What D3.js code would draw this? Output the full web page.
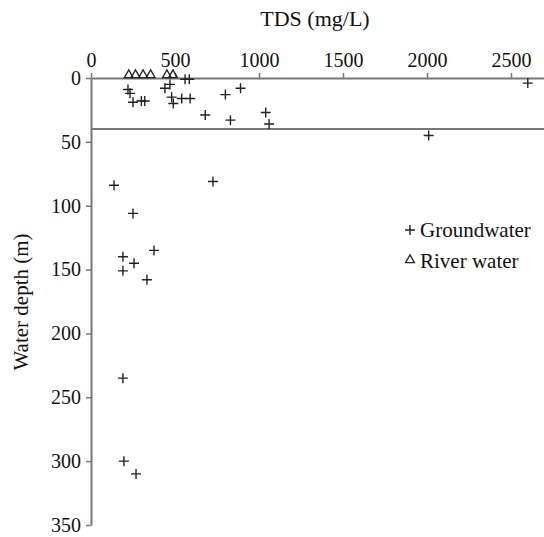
<!DOCTYPE html>
<html>
<head>
<meta charset="UTF-8">
<title>TDS vs water depth</title>
<script src="https://cdn.jsdelivr.net/npm/d3@7"></script>
<style>
  body { margin: 0; background: #fff; }
</style>
</head>
<body>
<svg id="chart" width="544" height="537"></svg>
<script>

// groundwater samples: TDS (mg/L), depth (m)
var gwTds   = [220, 232, 250, 300, 320, 440, 470, 480, 490, 540, 590, 560, 585,
               890, 800, 680, 830, 1040, 1060, 2600, 2010,
               726, 137, 250, 375, 190, 256, 190, 333, 190, 196, 268];
var gwDepth = [9, 12, 19, 18, 18, 8, 5, 15, 20, 16, 16, 1, 1,
               8, 13, 29, 33, 27, 36, 4, 45,
               81, 84, 106, 135, 140, 145, 151, 158, 235, 300, 310];

// river water samples
var rwTds   = [225, 265, 310, 355, 452, 488];
var rwDepth = [0, 0, 0, 0, 0, 0];

var xTicks = [0, 500, 1000, 1500, 2000, 2500];
var yTicks = [0, 50, 100, 150, 200, 250, 300, 350];
var splitDepth = 40;

var serif = "Liberation Serif, DejaVu Serif, serif";

var svg = d3.select("#chart");

var x = d3.scaleLinear().domain([0, 2700]).range([91, 544.6]);
var y = d3.scaleLinear().domain([0, 350]).range([78, 525]);

// axes
var xAxis = svg.append("g")
    .attr("transform", "translate(0," + y(0) + ")")
    .call(d3.axisTop(x).tickValues(xTicks).tickFormat(d3.format("d"))
        .tickSize(5).tickSizeOuter(0).tickPadding(6));
var yAxis = svg.append("g")
    .attr("transform", "translate(" + x(0) + ",0)")
    .call(d3.axisLeft(y).tickValues(yTicks).tickFormat(d3.format("d"))
        .tickSize(5).tickSizeOuter(0).tickPadding(5));

[xAxis, yAxis].forEach(function (a) {
    a.attr("font-family", serif);
    a.select(".domain").attr("stroke", "#777").attr("stroke-width", 2);
    a.selectAll(".tick line").attr("stroke", "#777").attr("stroke-width", 1.5);
    a.selectAll(".tick text").attr("font-family", serif).attr("font-size", 20).attr("fill", "#111");
});

// line at 40 m
svg.append("line")
    .attr("x1", x(0)).attr("x2", x(2700))
    .attr("y1", y(splitDepth)).attr("y2", y(splitDepth))
    .attr("stroke", "#777").attr("stroke-width", 2);

// axis titles
svg.append("text")
    .attr("x", 315).attr("y", 26)
    .attr("text-anchor", "middle")
    .attr("font-family", serif).attr("font-size", 22).attr("fill", "#111")
    .text("TDS (mg/L)");

svg.append("text")
    .attr("transform", "translate(28,302) rotate(-90)")
    .attr("text-anchor", "middle")
    .attr("font-family", serif).attr("font-size", 21).attr("fill", "#111")
    .text("Water depth (m)");

// groundwater crosses
var cross = "M-5,0H5M0,-5V5";
svg.append("g").selectAll("path")
    .data(d3.range(gwTds.length))
    .enter().append("path")
    .attr("d", cross)
    .attr("transform", function (i) { return "translate(" + x(gwTds[i]) + "," + y(gwDepth[i]) + ")"; })
    .attr("stroke", "#222").attr("stroke-width", 1.4).attr("fill", "none");

// river water triangles
var tri = d3.symbol().type(d3.symbolTriangle).size(34);
svg.append("g").selectAll("path")
    .data(d3.range(rwTds.length))
    .enter().append("path")
    .attr("d", tri)
    .attr("transform", function (i) { return "translate(" + x(rwTds[i]) + "," + (y(rwDepth[i]) - 3) + ")"; })
    .attr("stroke", "#222").attr("stroke-width", 1.3).attr("fill", "none");

// legend
var legend = svg.append("g");
legend.append("path").attr("d", cross)
    .attr("transform", "translate(410,230)")
    .attr("stroke", "#222").attr("stroke-width", 1.4);
legend.append("text").attr("x", 420).attr("y", 237)
    .attr("font-family", serif).attr("font-size", 21).attr("fill", "#111")
    .text("Groundwater");
legend.append("path").attr("d", tri)
    .attr("transform", "translate(410,260)")
    .attr("stroke", "#222").attr("stroke-width", 1.3).attr("fill", "none");
legend.append("text").attr("x", 420).attr("y", 268)
    .attr("font-family", serif).attr("font-size", 21).attr("fill", "#111")
    .text("River water");

</script>
</body>
</html>
